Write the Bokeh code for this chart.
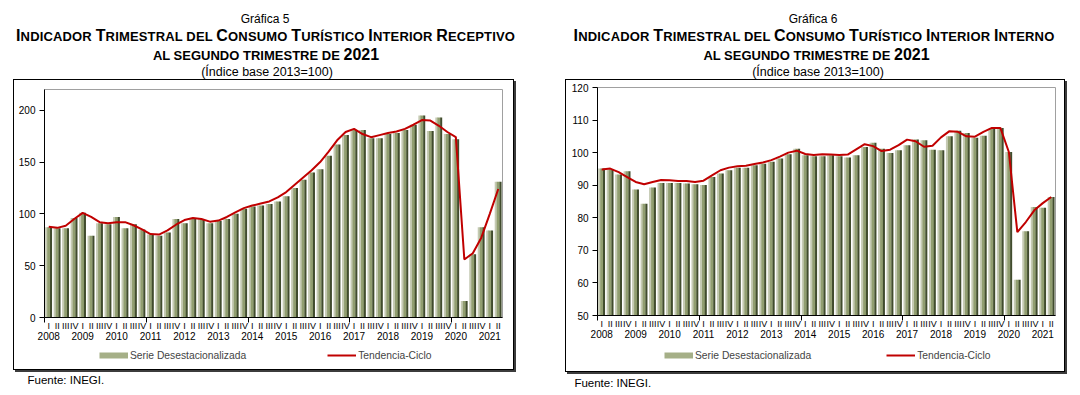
from bokeh.plotting import figure
from bokeh.models import (Range1d, LinearAxis, FixedTicker, Legend, LegendItem,
                          ColumnDataSource, Div)
from bokeh.layouts import row, column
from bokeh.transform import dodge
from bokeh.embed import file_html
from bokeh.resources import INLINE

FONT = "Liberation Sans"

years = [str(y) for y in range(2008, 2022)]
quarters = ["I", "II", "III", "IV"]
periods = [(y, q) for y in years for q in quarters][:54]

receptivo_serie = [87, 86, 86, 96, 101, 79, 91, 90, 97, 86, 90, 85, 80, 79, 82, 95,
                   91, 96, 95, 91, 93, 95, 100, 105, 107, 108, 109.5, 112, 117, 125, 133, 140,
                   143, 156, 167, 176, 181, 181, 173, 173, 177, 178, 181, 186, 195, 180, 193, 177,
                   172, 16, 61, 87, 84, 131]
receptivo_tendencia = [87.5, 86.5, 88.5, 95, 101, 97, 92, 91, 92, 92, 89, 85, 80.5, 80, 84, 89.5,
                       94, 96, 95, 92.5, 93.5, 97, 101.5, 105.5, 108, 110, 112, 116, 121, 128, 135, 142,
                       150, 160, 171, 179, 182, 177, 174, 176, 178, 179.5, 182, 186, 190.5, 190, 185, 179,
                       174, 56, 62, 77, 100, 124]
interno_serie = [95.1, 94.8, 93.3, 94.3, 88.7, 84.3, 89.3, 90.7, 90.7, 90.7, 90.5, 90.3,
                 90.1, 92.5, 93.6, 94.6, 95.4, 95.4, 96.1, 96.6, 97.2, 98.2, 99.5, 101.2,
                 99.2, 98.9, 98.9, 99.2, 98.9, 98.5, 99.2, 101.7, 103.0, 101.2, 99.9, 100.7,
                 102.3, 104.0, 103.8, 100.9, 100.7, 105.0, 106.7, 106.0, 104.6, 105.2, 107.3, 107.6,
                 100.2, 61.0, 75.9, 83.3, 83.1, 86.4]
interno_tendencia = [94.8, 95.1, 94.0, 92.5, 91.0, 90.3, 91.0, 91.6, 91.5, 91.3, 91.3, 91.0,
                     91.4, 93.0, 94.6, 95.4, 95.8, 96.0, 96.5, 97.0, 97.7, 98.8, 100.0, 100.6,
                     99.6, 99.3, 99.5, 99.4, 99.3, 99.4, 101.0, 102.6, 102.0, 100.5, 100.9, 102.3,
                     104.0, 103.5, 101.8, 102.1, 104.7, 106.6, 106.4, 105.0, 104.9, 106.4, 107.6, 107.6,
                     100.2, 75.6, 78.7, 82.3, 84.5, 86.4]

receptivo_ticks = [0, 50, 100, 150, 200]
interno_ticks = [50, 60, 70, 80, 90, 100, 110, 120]

receptivo_titles = ["Gráfica 5",
                    "Indicador Trimestral del Consumo Turístico Interior Receptivo",
                    "al segundo trimestre de 2021",
                    "(Índice base 2013=100)"]
interno_titles = ["Gráfica 6",
                  "Indicador Trimestral del Consumo Turístico Interior Interno",
                  "al segundo trimestre de 2021",
                  "(Índice base 2013=100)"]
legend_labels = ["Serie Desestacionalizada", "Tendencia-Ciclo"]
fuente = "Fuente: INEGI."

FF = "font-family:'Liberation Sans',Arial,sans-serif;color:#000;"
BAR_LIGHT, BAR_BODY, BAR_DARK = "#c5cab3", "#919e70", "#414c2d"
SWATCH = "#a5af87"
TREND = "#c00000"


def small_caps(text, big, small):
    out = []
    for ch in text:
        if ch.isupper() or ch.isdigit():
            out.append(f'<span style="font-size:{big}px">{ch}</span>')
        else:
            out.append(f'<span style="font-size:{small}px">{ch.upper()}</span>')
    return "".join(out)


def title_div(w, titles, cxs, ys):
    g, l1, l2, sub = titles
    lines = [
        (g, "font-size:12px;font-weight:normal;"),
        (small_caps(l1, 16, 13), "font-weight:bold;letter-spacing:0.15px;"),
        (small_caps(l2, 16, 13), "font-weight:bold;"),
        (sub, "font-size:12.5px;font-weight:normal;"),
    ]
    parts = [f'<div style="position:relative;width:{w}px;height:79px;{FF}">']
    for (txt, st), cx, y in zip(lines, cxs, ys):
        parts.append(
            f'<div style="position:absolute;left:{cx - 300}px;width:600px;top:{y - 10}px;'
            f'height:20px;line-height:20px;text-align:center;white-space:nowrap;{st}">{txt}</div>')
    parts.append("</div>")
    return Div(text="".join(parts), width=w, height=79, margin=0)


def fuente_div(w, x, y):
    html = (f'<div style="position:relative;width:{w}px;height:20px;{FF}">'
            f'<div style="position:absolute;left:{x}px;top:{y - 8}px;height:16px;line-height:16px;'
            f'font-size:11.5px;white-space:nowrap">{fuente}</div></div>')
    return Div(text=html, width=w, height=20, margin=0)


def legend_fig(src, w, h, bl, br, loc, spacing):
    f = figure(width=w, height=h, x_range=Range1d(0, 1), y_range=Range1d(0, 1),
               output_backend="svg", toolbar_location=None,
               x_axis_location=None, y_axis_location=None,
               min_border=0, min_border_left=bl, min_border_right=br,
               min_border_top=0, min_border_bottom=0)
    f.grid.visible = False
    f.outline_line_color = None
    # legend proxies: the series values lie outside this strip's 0..1 range, so only
    # their legend glyphs show
    r_sw = f.line(x="x", y="serie", source=src, line_color=SWATCH, line_width=6)
    r_tr = f.line(x="x", y="tend", source=src, line_color=TREND, line_width=2)
    lg = Legend(items=[LegendItem(label=legend_labels[0], renderers=[r_sw]),
                       LegendItem(label=legend_labels[1], renderers=[r_tr])],
                location=loc, orientation="horizontal", spacing=spacing,
                glyph_width=29, glyph_height=12, label_standoff=2, label_height=12,
                label_text_font=FONT, label_text_font_size="10.3px",
                padding=0, margin=0, border_line_color=None,
                background_fill_alpha=0)
    f.add_layout(lg)
    return f


def main_fig(src, n, y_start, y_end, y_ticks, w, h, borders):
    xs = list(range(n))
    bl, br, bt, bb = borders
    p = figure(width=w, height=h, x_range=Range1d(-0.5, n - 0.5),
               y_range=Range1d(y_start, y_end), output_backend="svg",
               toolbar_location=None, x_axis_location=None,
               min_border_left=bl, min_border_right=br,
               min_border_top=bt, min_border_bottom=bb,
               background_fill_color="white", border_fill_color="white")
    p.grid.visible = False
    p.outline_line_color = "#a0a0a0"
    p.outline_line_width = 1

    p.vbar(x=dodge("x", -0.27, range=p.x_range), top="serie", bottom=y_start,
           width=0.3, source=src, fill_color=BAR_LIGHT, line_color=None)
    p.vbar(x=dodge("x", 0.0, range=p.x_range), top="serie", bottom=y_start,
           width=0.36, source=src, fill_color=BAR_BODY, line_color=None)
    p.vbar(x=dodge("x", 0.27, range=p.x_range), top="serie", bottom=y_start,
           width=0.24, source=src, fill_color=BAR_DARK, line_color=None)
    p.line(x="x", y="tend", source=src, line_color=TREND, line_width=2)

    ax = p.yaxis[0]
    ax.ticker = FixedTicker(ticks=y_ticks)
    ax.minor_tick_line_color = None
    ax.major_tick_in = 0
    ax.major_tick_out = 5
    ax.axis_line_color = "black"
    ax.major_tick_line_color = "black"
    ax.major_label_text_font = FONT
    ax.major_label_text_font_size = "10px"
    ax.major_label_text_color = "black"
    ax.major_label_standoff = 4

    qax = LinearAxis(ticker=FixedTicker(ticks=xs, minor_ticks=[-0.5, 11.5, 23.5, 35.5, 47.5]),
                     major_label_overrides={i: q for i, (y, q) in enumerate(periods)})
    qax.major_tick_line_color = None
    qax.major_tick_in = 0
    qax.major_tick_out = 0
    qax.minor_tick_in = 0
    qax.minor_tick_out = 5
    qax.minor_tick_line_color = "black"
    qax.axis_line_color = "black"
    qax.major_label_standoff = -2
    qax.major_label_text_font = FONT
    qax.major_label_text_font_size = "9px"
    qax.major_label_text_color = "black"
    p.add_layout(qax, "below")

    q1 = [i for i, (y, q) in enumerate(periods) if q == "I"]
    yax = LinearAxis(ticker=FixedTicker(ticks=q1),
                     major_label_overrides={i: periods[i][0] for i in q1})
    yax.axis_line_color = None
    yax.major_tick_line_color = None
    yax.minor_tick_line_color = None
    yax.major_tick_in = 0
    yax.major_tick_out = 0
    yax.minor_tick_in = 0
    yax.minor_tick_out = 0
    yax.major_label_standoff = -2
    yax.major_label_text_font = FONT
    yax.major_label_text_font_size = "10px"
    yax.major_label_text_color = "black"
    p.add_layout(yax, "below")
    return p


def panel(serie, tend, y_start, y_end, y_ticks, titles, title_cx, w, mw, mh, borders,
          box_left, leg_h, leg_loc, leg_spacing, fuente_xy):
    n = len(serie)
    src = ColumnDataSource(dict(x=list(range(n)), serie=serie, tend=tend))
    BOX = {"border": "1px solid black", "box-shadow": "2px 2px 0px 0px #3c3c3c"}
    return column(
        title_div(w, titles, title_cx, [19, 36, 55, 71.5]),
        column(main_fig(src, n, y_start, y_end, y_ticks, mw, mh, borders),
               legend_fig(src, mw, leg_h, borders[0], borders[1], leg_loc, leg_spacing),
               margin=(0, 0, 0, box_left), styles=BOX),
        fuente_div(w, *fuente_xy),
    )


left = panel(receptivo_serie, receptivo_tendencia, 0, 220, receptivo_ticks, receptivo_titles,
             [265, 265.5, 266, 267], 540, 499, 265, (30, 11, 9, 28), 13,
             24, (55, 8), 81, (27.5, 10))
right = panel(interno_serie, interno_tendencia, 50, 120, interno_ticks, interno_titles,
              [273, 274, 276.5, 278], 538, 498, 263, (31, 9, 7, 28), 25,
              28, (67, 10), 75, (34.4, 11))

layout = row(left, right)
open("out.html", "w").write(file_html(layout, INLINE))
